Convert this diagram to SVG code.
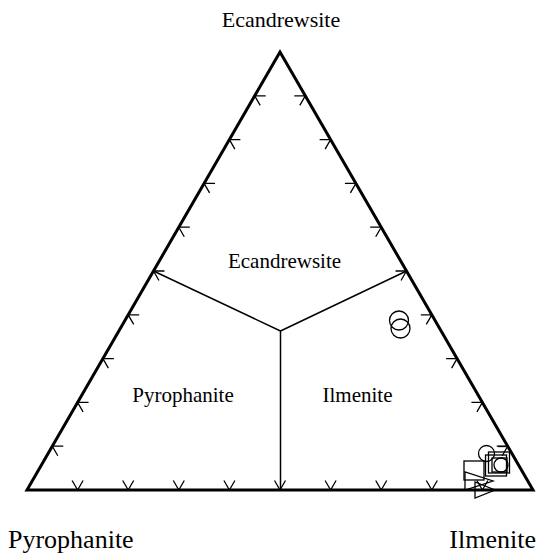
<svg xmlns="http://www.w3.org/2000/svg" width="538" height="554" viewBox="0 0 538 554">
<style>
.lbl{font-family:"Liberation Serif","Times New Roman",serif;fill:#000}
.top{font-size:22px}
.outer{font-size:26px}
.inner{font-size:21px}
.frame{fill:none;stroke:#000;stroke-width:3;stroke-linejoin:miter}
.tick{fill:none;stroke:#000;stroke-width:1.3}
.grid{fill:none;stroke:#000;stroke-width:1.5}
.pt{fill:none;stroke:#000;stroke-width:1.3}
</style>
<defs>
<path id="tk" d="M -5.5 -9.5 L 0 0 L 5.5 -9.5" class="tick"/>
</defs>
<rect width="538" height="554" fill="#fff"/>
<g id="frame">
<polygon class="frame" points="280,52 27,490 533,490"/>
</g>
<g id="ticks">
<use href="#tk" transform="translate(77.6,490)"/>
<use href="#tk" transform="translate(128.2,490)"/>
<use href="#tk" transform="translate(178.8,490)"/>
<use href="#tk" transform="translate(229.4,490)"/>
<use href="#tk" transform="translate(280,490)"/>
<use href="#tk" transform="translate(330.6,490)"/>
<use href="#tk" transform="translate(381.2,490)"/>
<use href="#tk" transform="translate(431.8,490)"/>
<use href="#tk" transform="translate(482.4,490)"/>
<use href="#tk" transform="translate(52.3,446.2) rotate(120)"/>
<use href="#tk" transform="translate(77.6,402.4) rotate(120)"/>
<use href="#tk" transform="translate(102.9,358.6) rotate(120)"/>
<use href="#tk" transform="translate(128.2,314.8) rotate(120)"/>
<use href="#tk" transform="translate(153.5,271) rotate(120)"/>
<use href="#tk" transform="translate(178.8,227.2) rotate(120)"/>
<use href="#tk" transform="translate(204.1,183.4) rotate(120)"/>
<use href="#tk" transform="translate(229.4,139.6) rotate(120)"/>
<use href="#tk" transform="translate(254.7,95.8) rotate(120)"/>
<use href="#tk" transform="translate(507.7,446.2) rotate(-120)"/>
<use href="#tk" transform="translate(482.4,402.4) rotate(-120)"/>
<use href="#tk" transform="translate(457.1,358.6) rotate(-120)"/>
<use href="#tk" transform="translate(431.8,314.8) rotate(-120)"/>
<use href="#tk" transform="translate(406.5,271) rotate(-120)"/>
<use href="#tk" transform="translate(381.2,227.2) rotate(-120)"/>
<use href="#tk" transform="translate(355.9,183.4) rotate(-120)"/>
<use href="#tk" transform="translate(330.6,139.6) rotate(-120)"/>
<use href="#tk" transform="translate(305.3,95.8) rotate(-120)"/>
</g>
<g id="connectors">
<path class="grid" d="M 280.5 331 L 153.5 271 M 280.5 331 L 406.5 271 M 280.5 331 L 280.5 490"/>
</g>
<g id="labels">
<text class="lbl top" x="281" y="27" text-anchor="middle">Ecandrewsite</text>
<text class="lbl outer" x="8" y="548">Pyrophanite</text>
<text class="lbl outer" x="536" y="548" text-anchor="end">Ilmenite</text>
<text class="lbl inner" x="284.5" y="268" text-anchor="middle">Ecandrewsite</text>
<text class="lbl inner" x="183" y="402" text-anchor="middle">Pyrophanite</text>
<text class="lbl inner" x="357.5" y="402" text-anchor="middle">Ilmenite</text>
</g>
<g id="points">
<circle class="pt" cx="399" cy="320.5" r="9.5"/>
<circle class="pt" cx="400.5" cy="328.5" r="9.5"/>
<circle class="pt" cx="486.5" cy="453.5" r="8"/>
<circle class="pt" cx="501" cy="465" r="7"/>
<rect class="pt" x="464" y="461" width="20" height="19"/>
<rect class="pt" x="485.5" y="455" width="21" height="21"/>
<rect class="pt" x="488.5" y="452" width="21" height="21"/>
<rect class="pt" x="492" y="458" width="15" height="14"/>
<path class="pt" d="M 498 446.5 L 506 446.5"/>
<polygon class="pt" points="465,472 465,490 493,481"/>
<polygon class="pt" points="475,482 475,498 495,490"/>
</g>
</svg>
